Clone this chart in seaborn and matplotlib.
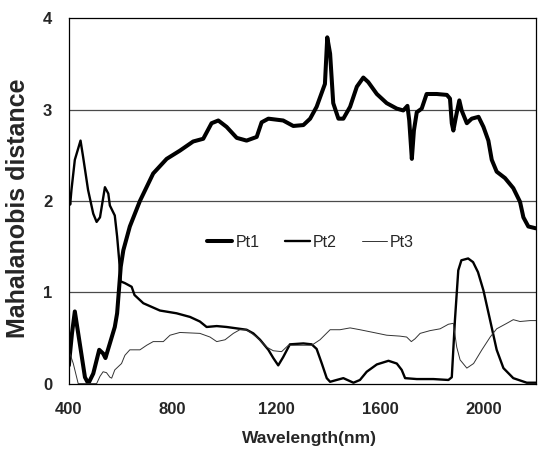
import pandas as pd
import numpy as np
import matplotlib
matplotlib.use('Agg')
import matplotlib.pyplot as plt
import seaborn as sns

# Values
pt1_wl = [400, 412, 423, 442, 462, 475, 494, 517, 532, 541, 558, 577, 586, 594, 600, 610, 635, 674,
          725, 777, 828, 879, 918, 950, 976, 1008, 1047, 1085, 1124, 1143, 1169, 1226, 1265, 1304,
          1330, 1355, 1387, 1396, 1407, 1419, 1439, 1458, 1484, 1510, 1535, 1554, 1587, 1625, 1664,
          1689, 1705, 1712, 1722, 1730, 1741, 1760, 1779, 1818, 1857, 1869, 1876, 1882, 1892, 1905,
          1914, 1934, 1953, 1979, 1998, 2017, 2030, 2049, 2081, 2113, 2139, 2152, 2171, 2200]
pt1_md = [0.20, 0.55, 0.79, 0.44, 0.07, 0.00, 0.11, 0.37, 0.33, 0.28, 0.44, 0.62, 0.77, 1.06, 1.28,
          1.46, 1.72, 2.00, 2.30, 2.46, 2.55, 2.65, 2.68, 2.85, 2.88, 2.81, 2.69, 2.66, 2.70, 2.86,
          2.90, 2.88, 2.82, 2.83, 2.90, 3.03, 3.28, 3.79, 3.61, 3.07, 2.90, 2.90, 3.03, 3.25, 3.35,
          3.30, 3.17, 3.07, 3.01, 2.99, 3.04, 2.88, 2.46, 2.77, 2.97, 3.01, 3.17, 3.17, 3.16, 3.12,
          2.85, 2.77, 2.92, 3.10, 2.99, 2.85, 2.90, 2.92, 2.81, 2.66, 2.45, 2.32, 2.25, 2.14, 1.99,
          1.82, 1.72, 1.70]

pt2_wl = [400, 405, 410, 423, 445, 455, 474, 494, 507, 520, 539, 552, 558, 577, 586, 594, 599, 616,
          642, 653, 687, 751, 815, 867, 905, 931, 970, 1008, 1059, 1085, 1111, 1137, 1169, 1188,
          1207, 1226, 1252, 1304, 1336, 1355, 1375, 1394, 1407, 1432, 1458, 1497, 1522, 1548, 1587,
          1632, 1664, 1683, 1696, 1741, 1805, 1863, 1876, 1888, 1901, 1913, 1939, 1958, 1977, 1998,
          2024, 2049, 2075, 2113, 2165, 2200]
pt2_md = [2.08, 1.96, 2.12, 2.45, 2.66, 2.48, 2.12, 1.86, 1.77, 1.82, 2.15, 2.08, 1.95, 1.84, 1.61,
          1.35, 1.12, 1.10, 1.06, 0.97, 0.88, 0.80, 0.77, 0.73, 0.68, 0.62, 0.63, 0.62, 0.60, 0.59,
          0.55, 0.48, 0.37, 0.28, 0.20, 0.29, 0.43, 0.44, 0.43, 0.38, 0.22, 0.06, 0.02, 0.04, 0.06,
          0.01, 0.04, 0.13, 0.21, 0.25, 0.22, 0.15, 0.06, 0.05, 0.05, 0.04, 0.07, 0.69, 1.24, 1.35,
          1.37, 1.33, 1.22, 1.02, 0.69, 0.37, 0.17, 0.06, 0.01, 0.01]

pt3_wl = [400, 404, 417, 436, 470, 507, 520, 532, 545, 558, 565, 577, 603, 616, 635, 674, 700, 725,
          764, 790, 828, 905, 944, 970, 1002, 1034, 1059, 1085, 1124, 1162, 1188, 1220, 1246, 1304,
          1336, 1368, 1407, 1445, 1484, 1522, 1574, 1625, 1676, 1702, 1720, 1734, 1754, 1792, 1831,
          1863, 1882, 1895, 1908, 1934, 1960, 1992, 2024, 2049, 2088, 2113, 2139, 2178, 2200]
pt3_md = [0.29, 0.33, 0.22, 0.00, 0.00, 0.00, 0.08, 0.13, 0.12, 0.07, 0.06, 0.15, 0.22, 0.31, 0.37,
          0.37, 0.42, 0.46, 0.46, 0.53, 0.56, 0.55, 0.51, 0.46, 0.48, 0.55, 0.59, 0.59, 0.51, 0.40,
          0.36, 0.35, 0.42, 0.42, 0.42, 0.48, 0.59, 0.59, 0.61, 0.59, 0.56, 0.53, 0.52, 0.51, 0.46,
          0.49, 0.55, 0.58, 0.60, 0.65, 0.66, 0.40, 0.26, 0.17, 0.22, 0.37, 0.51, 0.60, 0.66, 0.70,
          0.68, 0.69, 0.69]

x_ticks = [400, 800, 1200, 1600, 2000]
y_ticks = [0, 1, 2, 3, 4]

sns.set_style('white')
plt.rcParams['font.family'] = ['Liberation Sans', 'DejaVu Sans']

fig = plt.figure(figsize=(5.38, 4.54), dpi=100)
ax = fig.add_axes([0.128, 0.155, 0.868, 0.805])

# horizontal gridlines
for yv in y_ticks[1:-1]:
    ax.axhline(yv, color='#4a4a4a', lw=0.9, zorder=0)

sns.lineplot(x=pt1_wl, y=pt1_md, ax=ax, color='black', lw=2.9, label='Pt1', estimator=None)
sns.lineplot(x=pt2_wl, y=pt2_md, ax=ax, color='black', lw=1.7, label='Pt2', estimator=None)
sns.lineplot(x=pt3_wl, y=pt3_md, ax=ax, color='#333333', lw=0.7, label='Pt3', estimator=None)

ax.set_xlim(400, 2200)
ax.set_ylim(0, 4)
ax.set_xticks(x_ticks)
ax.set_yticks(y_ticks)
ax.tick_params(axis='x', direction='in', length=4, width=0.9, color='black', pad=13, labelsize=12)
ax.tick_params(axis='y', length=0, pad=12, labelsize=12)
for lab in ax.get_xticklabels() + ax.get_yticklabels():
    lab.set_fontweight('bold')

for sp in ax.spines.values():
    sp.set_visible(True)
    sp.set_color('black')
    sp.set_linewidth(0.9)

ax.set_xlabel('Wavelength(nm)', fontsize=12.5, fontweight='bold')
ax.xaxis.set_label_coords(0.515, -0.13)
ax.set_ylabel('Mahalanobis distance', fontsize=18, fontweight='bold')
ax.yaxis.set_label_coords(-0.083, 0.48)

ax.legend(loc='center', bbox_to_anchor=(0.518, 0.387), ncol=3, frameon=False, fontsize=11.5,
          handlelength=1.55, handletextpad=0.2, columnspacing=1.6)

fig.savefig('out.png', dpi=100)
